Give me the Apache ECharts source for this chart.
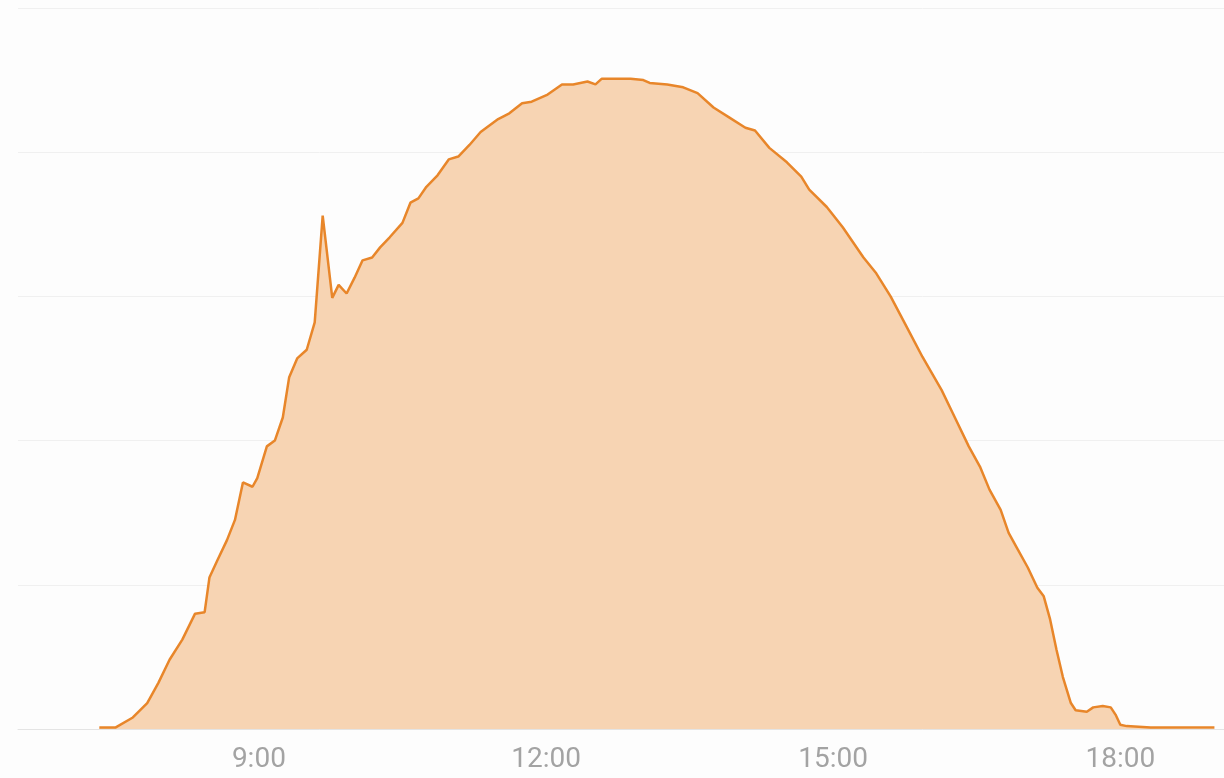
<!DOCTYPE html>
<html>
<head>
<meta charset="utf-8">
<script src="https://cdn.jsdelivr.net/npm/echarts@6/dist/echarts.min.js"></script>
<style>
  html, body { margin: 0; padding: 0; background: #fdfdfd; }
  #chart { width: 1224px; height: 778px; }
</style>
</head>
<body>
<div id="chart"></div>
<script>
// minutes since midnight
var times = [
  440, 450, 461, 470, 477, 484, 492, 500, 506, 509, 514, 520, 525, 530, 536, 539,
  545, 550, 555, 559, 564, 570, 575, 580, 586, 590, 595, 600, 605, 611, 616, 622,
  630, 635, 640, 645, 652, 659, 665, 672, 679, 690, 697, 705, 711, 721, 730, 737,
  746, 751, 755, 764, 773, 781, 785, 796, 806, 815, 825, 835, 845, 851, 860, 871,
  880, 885, 896, 906, 919, 927, 936, 946, 956, 968, 975, 985, 992, 998, 1005, 1010,
  1015, 1022, 1028, 1032, 1036, 1040, 1044, 1049, 1052, 1059, 1063, 1069, 1074, 1077, 1080, 1084,
  1099, 1139
];
// power (kW)
var power = [
  0.01, 0.01, 0.08, 0.18, 0.32, 0.48, 0.62, 0.80, 0.81, 1.05, 1.17, 1.31, 1.45, 1.71, 1.68, 1.74,
  1.96, 2.00, 2.16, 2.44, 2.57, 2.63, 2.82, 3.56, 2.99, 3.08, 3.02, 3.13, 3.25, 3.27, 3.34, 3.41,
  3.51, 3.65, 3.68, 3.76, 3.84, 3.95, 3.97, 4.05, 4.14, 4.23, 4.27, 4.34, 4.35, 4.40, 4.47, 4.47,
  4.49, 4.47, 4.51, 4.51, 4.51, 4.50, 4.48, 4.47, 4.45, 4.41, 4.31, 4.24, 4.17, 4.15, 4.03, 3.93,
  3.83, 3.74, 3.62, 3.48, 3.27, 3.16, 3.00, 2.79, 2.58, 2.35, 2.19, 1.96, 1.82, 1.66, 1.52, 1.36,
  1.26, 1.12, 0.98, 0.92, 0.76, 0.55, 0.36, 0.18, 0.13, 0.12, 0.15, 0.16, 0.15, 0.10, 0.03, 0.02,
  0.01, 0.01
];
var tickMinutes = [540, 720, 900, 1080];

var chart = echarts.init(document.getElementById('chart'));

var option = {
  backgroundColor: '#fdfdfd',
  animation: false,
  grid: { left: 18, right: 0, top: 8, bottom: 49 },
  xAxis: {
    type: 'value',
    min: 389,
    max: 1145,
    axisLine: { show: true, lineStyle: { color: '#e4e4e4', width: 1 } },
    axisTick: { show: false },
    splitLine: { show: false },
    axisLabel: {
      customValues: tickMinutes,
      color: '#a3a3a3',
      fontFamily: 'Roboto',
      fontSize: 28,
      margin: 17,
      formatter: function (v) {
        return Math.floor(v / 60) + ':' + ('0' + (v % 60)).slice(-2);
      }
    }
  },
  yAxis: {
    type: 'value',
    min: 0,
    max: 5,
    interval: 1,
    axisLine: { show: false },
    axisTick: { show: false },
    axisLabel: { show: false },
    splitLine: { show: true, lineStyle: { color: '#f0f0f0', width: 1 } }
  },
  series: [
    {
      type: 'line',
      data: times.map(function (t, i) { return [t, power[i]]; }),
      showSymbol: false,
      smooth: false,
      lineStyle: { color: '#e8862a', width: 2.5 },
      areaStyle: { color: '#f7d4b3', opacity: 1 }
    }
  ]
};

chart.setOption(option);
</script>
</body>
</html>
